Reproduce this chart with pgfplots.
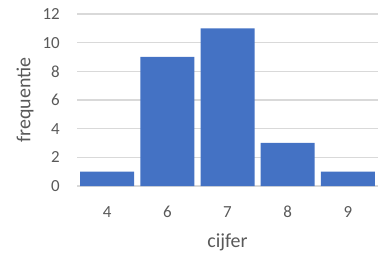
\documentclass[border=0pt]{standalone}
\usepackage{fontspec}
\setmainfont{Carlito}
\usepackage{pgfplots}
\pgfplotsset{compat=1.18}
\definecolor{barblue}{HTML}{4472C4}
\definecolor{txtgray}{HTML}{595959}
\definecolor{gridgray}{HTML}{D9D9D9}
\begin{document}
\begin{tikzpicture}
\path[use as bounding box] (0,0) rectangle (378bp,254bp);
\begin{axis}[
  at={(77bp,68bp)}, anchor=south west,
  scale only axis, width=301bp, height=172bp,
  xmin=-0.5, xmax=4.5, ymin=0, ymax=12,
  ytick={0,2,...,12},
  xtick={0,1,2,3,4},
  xticklabels={4,6,7,8,9},
  axis line style={draw=none},
  major tick length=0pt,
  ymajorgrids, grid style={gridgray, line width=1.2bp},
  /pgf/number format/assume math mode=true,
  tick label style={font=\fontsize{17}{20}\selectfont, text=txtgray},
  yticklabel style={anchor=east, inner sep=0pt, xshift=-17bp},
  xticklabel style={anchor=north, inner sep=0pt, yshift=-20bp},
  label style={font=\fontsize{20}{24}\selectfont, text=txtgray},
  xlabel={cijfer},
  xlabel style={at={(axis description cs:0.5,0)}, anchor=center, inner sep=0pt, yshift=-56bp},
  ylabel={frequentie},
  ylabel style={at={(axis description cs:0,0.5)}, anchor=center, inner sep=0pt, yshift=52bp},
  clip=false,
]
\addplot[ybar, bar width=54bp, fill=barblue, draw=none] coordinates {(0,1) (1,9) (2,11) (3,3) (4,1)};
\end{axis}
\end{tikzpicture}
\end{document}
